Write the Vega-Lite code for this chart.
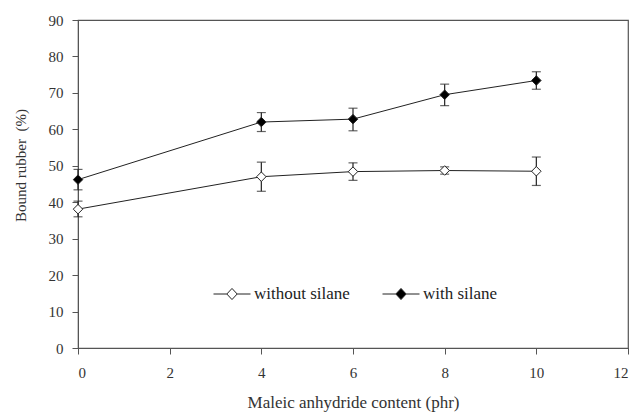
{
  "$schema": "https://vega.github.io/schema/vega-lite/v6.json",
  "width": 550,
  "height": 328,
  "autosize": {"type": "none"},
  "padding": {"left": 78, "top": 20, "right": 9, "bottom": 65},
  "background": "white",
  "config": {
    "font": "Liberation Serif",
    "view": {"stroke": "#555555", "strokeWidth": 1.2},
    "axis": {
      "grid": false,
      "domainColor": "#555555",
      "tickColor": "#555555",
      "tickSize": 6,
      "labelOverlap": false,
      "labelFont": "Liberation Serif",
      "labelFontSize": 15,
      "labelColor": "#333333",
      "titleFont": "Liberation Serif",
      "titleFontSize": 17,
      "titleFontWeight": "normal",
      "titleColor": "#333333"
    }
  },
  "data": {
    "values": [
      {"series": "with silane", "x": 0, "y": 46.2, "ymin": 43.4, "ymax": 49.0},
      {"series": "with silane", "x": 4, "y": 62.0, "ymin": 59.4, "ymax": 64.6},
      {"series": "with silane", "x": 6, "y": 62.8, "ymin": 59.6, "ymax": 65.8},
      {"series": "with silane", "x": 8, "y": 69.5, "ymin": 66.5, "ymax": 72.4},
      {"series": "with silane", "x": 10, "y": 73.4, "ymin": 71.0, "ymax": 75.8},
      {"series": "without silane", "x": 0, "y": 38.1, "ymin": 36.0, "ymax": 40.3},
      {"series": "without silane", "x": 4, "y": 47.0, "ymin": 43.0, "ymax": 51.0},
      {"series": "without silane", "x": 6, "y": 48.4, "ymin": 46.0, "ymax": 50.8},
      {"series": "without silane", "x": 8, "y": 48.7, "ymin": 47.7, "ymax": 49.7},
      {"series": "without silane", "x": 10, "y": 48.5, "ymin": 44.6, "ymax": 52.4}
    ]
  },
  "encoding": {
    "x": {
      "field": "x", "type": "quantitative",
      "scale": {"domain": [0, 12], "nice": false},
      "axis": {"values": [0, 2, 4, 6, 8, 10, 12], "labelFont": "Liberation Serif", "title": "Maleic anhydride content (phr)", "labelPadding": 11, "titlePadding": 14}
    }
  },
  "layer": [
    {
      "mark": {"type": "line", "color": "#222222", "strokeWidth": 1},
      "encoding": {
        "y": {
          "field": "y", "type": "quantitative",
          "scale": {"domain": [0, 90], "nice": false},
          "axis": {"values": [0, 10, 20, 30, 40, 50, 60, 70, 80, 90], "labelFont": "Liberation Serif", "labelOverlap": false, "labelFontSize": 15, "title": "Bound rubber \u00a0(%)", "titleFontSize": 15, "labelPadding": 9, "titleX": -58, "titleY": 145, "titleBaseline": "middle"}
        },
        "detail": {"field": "series"}
      }
    },
    {
      "mark": {"type": "rule", "color": "#222222", "strokeWidth": 1.2},
      "encoding": {
        "y": {"field": "ymin", "type": "quantitative",
          "axis": {"values": [0, 10, 20, 30, 40, 50, 60, 70, 80, 90], "labelFont": "Liberation Serif", "labelOverlap": false, "labelFontSize": 15, "title": "Bound rubber \u00a0(%)", "titleFontSize": 15, "labelPadding": 9, "titleX": -58, "titleY": 145, "titleBaseline": "middle"}},
        "y2": {"field": "ymax"}
      }
    },
    {
      "mark": {"type": "tick", "orient": "horizontal", "color": "#222222", "size": 9, "thickness": 1.2},
      "encoding": {"y": {"field": "ymin", "type": "quantitative",
          "axis": {"values": [0, 10, 20, 30, 40, 50, 60, 70, 80, 90], "labelFont": "Liberation Serif", "labelOverlap": false, "labelFontSize": 15, "title": "Bound rubber \u00a0(%)", "titleFontSize": 15, "labelPadding": 9, "titleX": -58, "titleY": 145, "titleBaseline": "middle"}}}
    },
    {
      "mark": {"type": "tick", "orient": "horizontal", "color": "#222222", "size": 9, "thickness": 1.2},
      "encoding": {"y": {"field": "ymax", "type": "quantitative",
          "axis": {"values": [0, 10, 20, 30, 40, 50, 60, 70, 80, 90], "labelFont": "Liberation Serif", "labelOverlap": false, "labelFontSize": 15, "title": "Bound rubber \u00a0(%)", "titleFontSize": 15, "labelPadding": 9, "titleX": -58, "titleY": 145, "titleBaseline": "middle"}}}
    },
    {
      "mark": {"type": "point", "shape": "diamond", "size": 90, "stroke": "#222222", "strokeWidth": 1, "opacity": 1},
      "encoding": {
        "y": {"field": "y", "type": "quantitative",
          "axis": {"values": [0, 10, 20, 30, 40, 50, 60, 70, 80, 90], "labelFont": "Liberation Serif", "labelOverlap": false, "labelFontSize": 15, "title": "Bound rubber \u00a0(%)", "titleFontSize": 15, "labelPadding": 9, "titleX": -58, "titleY": 145, "titleBaseline": "middle"}},
        "fill": {
          "field": "series", "type": "nominal",
          "scale": {"domain": ["without silane", "with silane"], "range": ["white", "black"]},
          "legend": {
            "title": null,
            "orient": "none",
            "legendX": 135,
            "legendY": 255,
            "direction": "horizontal",
            "symbolType": "M-1,0H-0.28M0.28,0H1M-0.28,0L0,-0.3L0.28,0L0,0.3Z",
            "symbolSize": 1369,
            "symbolStrokeColor": "#222222",
            "symbolStrokeWidth": 1,
            "symbolOpacity": 1,
            "labelFont": "Liberation Serif",
            "labelFontSize": 17,
            "labelColor": "#222222",
            "labelOffset": 3,
            "columnPadding": 30,
            "symbolOffset": 0
          }
        }
      }
    }
  ]
}
